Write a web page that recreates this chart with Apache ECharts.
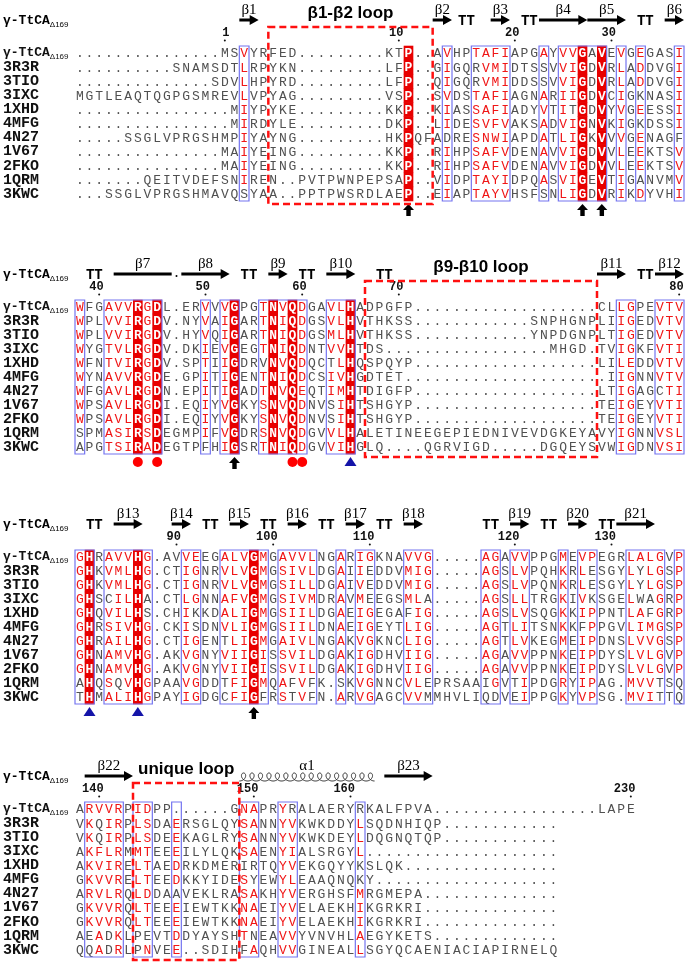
<!DOCTYPE html>
<html>
<head>
<meta charset="utf-8">
<title>alignment</title>
<script src="https://cdn.jsdelivr.net/npm/echarts@6.0.0/dist/echarts.min.js"></script>
<style>
  html, body { margin: 0; padding: 0; background: #fff; }
  #main { width: 685px; height: 965px; }
</style>
</head>
<body>
<div id="main"></div>
<script>
// sequence names, top to bottom
const names = ['γ-TtCAΔ169', '3R3R', '3TIO', '3IXC', '1XHD', '4MFG', '4N27', '1V67', '2FKO', '1QRM', '3KWC']

// ---- block 1 (residues 1-37)
const seq1 = [
  '...............MSVYRFED.........KTP..AVHPTAFIAPGAYVVGAVEVGEGASI',
  '..........SNAMSDTLRPYKN.........LFP..GIGQRVMIDTSSVVIGDVRLADDVGI',
  '..............SDVLHPYRD.........LFP..QIGQRVMIDDSSVVIGDVRLADDVGI',
  'MGTLEAQTQGPGSMREVLVPYAG.........VSP..SVDSTAFIAGNARIIGDVCIGKNASI',
  '................MIYPYKE.........KKP..KIASSAFIADYVTITGDVYVGEESSI',
  '................MIRDYLE.........DKP..LIDESVFVAKSADVIGNVKIGKDSSI',
  '.....SSGLVPRGSHMPIYAYNG.........HKPQFADRESNWIAPDATLIGKVVVGENAGF',
  '...............MAIYEING.........KKP..RIHPSAFVDENAVVIGDVVLEEKTSV',
  '...............MAIYEING.........KKP..RIHPSAFVDENAVVIGDVVLEEKTSV',
  '.......QEITVDEFSNIREN..PVTPWNPEPSAP..VIDPTAYIDPQASVIGEVTIGANVMV',
  '...SSGLVPRGSHMAVQSYAA..PPTPWSRDLAEP..EIAPTAYVHSFSNLIGDVRIKDYVHI'
]
const ident1 = [34, 52, 54]
const boxes1 = [[17, 17], [38, 38], [41, 44], [48, 48], [50, 54], [56, 56], [58, 58], [62, 62]]
const sim1 = { 17: 'VLI', 38: 'VI', 41: 'TS', 42: 'AVN', 43: 'FMWY', 44: 'IV', 48: 'AV', 50: 'VIL', 51: 'VI', 56: 'VLI', 58: 'ED', 62: 'IV' }
const nums1 = [[15, '1'], [33, '10'], [45, '20'], [55, '30']]
const ss1 = [['arrow', 17, 18, 'β1'], ['arrow', 37, 38, 'β2'], ['tt', 40], ['arrow', 43, 44, 'β3'], ['tt', 46.5],
  ['arrow', 48, 52, 'β4'], ['arrow', 53, 56, 'β5'], ['tt', 58.5], ['arrow', 61, 62, 'β6']]
const marks1 = [[34, 'arrow'], [52, 'arrow'], [54, 'arrow']]
const loop1 = [[19.5, 36.5, 'β1-β2 loop']]

// ---- block 2 (residues 38-80)
const seq2 = [
  'WFGAVVRGDL.ERVVVGPGTNVQDGAVLHADPGFP...................CLLGPEVTV',
  'WPLVVIRGDV.NYVAIGARTNIQDGSVLHVTHKSS............SNPHGNPLIIGEDVTV',
  'WPLVVIRGDV.HYVQIGARTNIQDGSMLHVTHKSS............YNPDGNPLTIGEDVTV',
  'WYGTVLRGDV.DKIEVGEGTNIQDNTVVHTDS.................MHGD.TVIGKFVTI',
  'WFNTVIRGDV.SPTIIGDRVNVQDQCTLHQSPQYP...................LILEDDVTV',
  'WYNAVVRGDE.GPITIGENTNIQDCSIVHGDTET.....................IIGNNVTV',
  'WFGAVLRGDN.EPITIGADTNVQEQTIMHTDIGFP...................LTIGAGCTI',
  'WPSAVLRGDI.EQIYVGKYSNVQDNVSIHTSHGYP...................TEIGEYVTI',
  'WPSAVLRGDI.EQIYVGKYSNVQDNVSIHTSHGYP...................TEIGEYVTI',
  'SPMASIRSDEGMPIFVGDRSNVQDGVVLHALETINEEGEPIEDNIVEVDGKEYAVYIGNNVSL',
  'APGTSIRADEGTPFHIGSRTNIQDGVVIHGLQ....QGRVIGD.....DGQEYSVWIGDNVSI'
]
const ident2 = [6, 8, 16, 20, 22, 28]
const boxes2 = [[0, 0], [3, 8], [13, 13], [15, 16], [19, 23], [26, 28], [56, 57], [60, 62]]
const sim2 = { 0: 'W', 3: 'AVT', 4: 'VS', 5: 'VIL', 7: 'GSA', 13: 'VIT', 15: 'VI', 19: 'TS', 21: 'VI', 23: 'DE',
  26: 'VMLI', 27: 'LVMI', 56: 'LI', 57: 'GE', 60: 'V', 61: 'TS', 62: 'VIL' }
const nums2 = [[2, '40'], [13, '50'], [23, '60'], [33, '70'], [62, '80']]
const ss2 = [['tt', 1.5], ['line', 4, 9, 'β7'], ['gap', 10], ['arrow', 11, 15, 'β8'], ['tt', 17.5], ['arrow', 20, 21, 'β9'],
  ['tt', 23.5], ['arrow', 26, 28, 'β10'], ['tt', 31.5], ['arrow', 54, 56, 'β11'], ['tt', 58.5], ['arrow', 60, 62, 'β12']]
const marks2 = [[6, 'dot'], [8, 'dot'], [16, 'arrow'], [22, 'dot'], [23, 'dot'], [28, 'tri']]
const loop2 = [[29.5, 53.5, 'β9-β10 loop']]

// ---- block 3 (residues 81-137)
const seq3 = [
  'GHRAVVHG.AVVEEGALVGMGAVVLNGARIGKNAVVG.....AGAVVPPGMEVPEGRLALGVP',
  'GHKVMLHG.CTIGNRVLVGMGSIVLDGAIIEDDVMIG.....AGSLVPQHKRLESGYLYLGSP',
  'GHKVMLHG.CTIGNRVLVGMGSILLDGAIVEDDVMIG.....AGSLVPQNKRLESGYLYLGSP',
  'GHSCILHA.CTLGNNAFVGMGSIVMDRAVMEEGSMLA.....AGSLLTRGKIVKSGELWAGRP',
  'GHQVILHS.CHIKKDALIGMGSIILDGAEIGEGAFIG.....AGSLVSQGKKIPPNTLAFGRP',
  'GHRSIVHG.CKISDNVLIGMGSIILDNAEIGEYTLIG.....AGTLITSNKKFPPGVLIMGSP',
  'GHRAILHG.CTIGENTLIGMGAIVLNGAKVGKNCLIG.....AGTLVKEGMEIPDNSLVVGSP',
  'GHNAMVHG.AKVGNYVIIGISSVILDGAKIGDHVIIG.....AGAVVPPNKEIPDYSLVLGVP',
  'GHNAMVHG.AKVGNYVIIGISSVILDGAKIGDHVIIG.....AGAVVPPNKEIPDYSLVLGVP',
  'AHQSQVHGPAAVGDDTFIGMQAFVFK.SKVGNNCVLEPRSAAIGVTIPDGRYIPAG.MVVTSQ',
  'THMALIHGPAYIGDGCFIGFRSTVFN.ARVGAGCVVMMHVLIQDVEIPPGKYVPSG.MVITTQ'
]
const ident3 = [1, 6, 18]
const boxes3 = [[0, 1], [3, 7], [11, 12], [15, 19], [21, 24], [27, 27], [29, 30], [34, 36], [42, 43], [45, 46],
  [50, 50], [52, 53], [57, 60], [62, 62]]
const sim3 = { 0: 'G', 3: 'AVS', 4: 'VMIL', 5: 'VLI', 7: 'G', 11: 'VIL', 12: 'GE', 15: 'AV', 16: 'LFI', 17: 'VI',
  19: 'MI', 21: 'AS', 22: 'VI', 23: 'VLI', 24: 'LM', 27: 'A', 29: 'IVM', 30: 'G', 34: 'VMLI', 35: 'VIL', 36: 'G',
  42: 'A', 43: 'G', 45: 'VLI', 46: 'VLI', 50: 'MKR', 52: 'VLI', 53: 'P', 57: 'LM', 58: 'AVI', 59: 'LMVI', 60: 'G', 62: 'P' }
const nums3 = [[10, '90'], [20, '100'], [30, '110'], [45, '120'], [55, '130']]
const ss3 = [['tt', 1.5], ['arrow', 4, 6, 'β13'], ['arrow', 10, 11, 'β14'], ['tt', 13.5], ['arrow', 16, 17, 'β15'],
  ['tt', 19.5], ['arrow', 22, 23, 'β16'], ['tt', 25.5], ['arrow', 28, 29, 'β17'], ['tt', 31.5], ['arrow', 34, 35, 'β18'],
  ['tt', 42.5], ['arrow', 45, 46, 'β19'], ['tt', 48.5], ['arrow', 51, 52, 'β20'], ['tt', 54.5], ['arrow', 56, 59, 'β21']]
const marks3 = [[1, 'tri'], [6, 'tri'], [18, 'arrow']]
const loop3 = []

// ---- block 4 (residues 138-230)
const seq4 = [
  'ARVVRPIDPP......GNAPRYRALAERYRKALFPVA.................LAPE',
  'VKQIRPLSDAERSGLQYSANNYVKWKDDYLSQDNHIQP............',
  'VKQIRPLSDEEKAGLRYSANNYVKWKDEYLDQGNQTQP............',
  'AKFLRMMTEEEILYLQKSAENYIALSRGYL....................',
  'AKVIRELTAEDRKDMERIRTQYVEKGQYYKSLQK................',
  'GKVVRELTEEDKKYIDESYEWYLEAAQNQKY...................',
  'ARVLRQLDDAAVEKLRASAKHYVERGHSFMRGMEPA..............',
  'GKVVRQLTEEEIEWTKKNAEIYVELAEKHIKGRKRI..............',
  'GKVVRQLTEEEIEWTKKNAEIYVELAEKHIKGRKRI..............',
  'AEADKLPEVTDDYAYSHTNEAVVYVNVHLAEGYKETS.............',
  'QQADRLPNVEE..SDIHFAQHVVGINEALLSGYQCAENIACIAPIRNELQ'
]
const ident4 = []
const boxes4 = [[1, 4], [6, 7], [10, 10], [17, 18], [21, 22], [29, 29]]
const sim4 = { 1: 'RK', 2: 'VFA', 3: 'VIL', 4: 'RK', 6: 'ILM', 7: 'STDN', 10: 'ED', 17: 'NST', 18: 'A', 21: 'YV', 22: 'VIL', 29: 'LMIA' }
const nums4 = [[2, '140'], [18, '150'], [28, '160'], [57, '230']]
const ss4 = [['arrow', 1, 5, 'β22'], ['helix', 17, 30, 'α1'], ['arrow', 32, 36, 'β23']]
const marks4 = []
const loop4 = [[5.5, 16.5, 'unique loop']]

const blocks = [
  { seqs: seq1, ident: ident1, boxes: boxes1, sim: sim1, nums: nums1, ss: ss1, marks: marks1, loop: loop1 },
  { seqs: seq2, ident: ident2, boxes: boxes2, sim: sim2, nums: nums2, ss: ss2, marks: marks2, loop: loop2 },
  { seqs: seq3, ident: ident3, boxes: boxes3, sim: sim3, nums: nums3, ss: ss3, marks: marks3, loop: loop3 },
  { seqs: seq4, ident: ident4, boxes: boxes4, sim: sim4, nums: nums4, ss: ss4, marks: marks4, loop: loop4 }
]

// layout
const tops = [46, 300, 550, 802]
const heights = [155, 154, 154, 155]
const MONO = '"Liberation Mono", "DejaVu Sans Mono", monospace'
const SERIF = '"Liberation Serif", "DejaVu Serif", serif'
const SANS = '"Liberation Sans", Arial, sans-serif'
const RED = '#f01616'
const BOX = '#7474f0'

const nameRich = {
  n: { fontFamily: MONO, fontWeight: 'bold', fontSize: 15, color: '#111' },
  g: { fontFamily: MONO, fontWeight: 'bold', fontSize: 13, color: '#111' },
  s: { fontFamily: SANS, fontSize: 8, color: '#111', padding: [7, 0, 0, 0] }
}
const nameFmt = v => v.startsWith('γ') ? '{g|γ-TtCA}{s|Δ169}' : '{n|' + v + '}'

function buildCells(b) {
  const cells = []
  const boxed = new Set()
  b.boxes.forEach(([s, e]) => { for (let c = s; c <= e; c++) boxed.add(c) })
  b.seqs.forEach((str, r) => {
    for (let c = 0; c < str.length; c++) {
      const ch = str[c]
      let kind = 0
      if (b.ident.includes(c)) kind = 2
      else if (boxed.has(c) && (b.sim[c] || '').includes(ch)) kind = 1
      cells.push({ c, r, ch, kind })
    }
  })
  return cells
}

function helixPoints(x0, x1, yc) {
  const loops = Math.round((x1 - x0) / 8.5)
  const k = (x1 - x0) / (loops * 2 * Math.PI)
  const r = 4
  const pts = []
  for (let th = 0; th <= loops * 2 * Math.PI + 0.01; th += 0.1) {
    pts.push([x0 + k * th + r * Math.sin(th), yc + r * Math.cos(th)])
  }
  return pts
}

const chart = echarts.init(document.getElementById('main'))
const grid = [], xAxis = [], yAxis = [], series = []

blocks.forEach((b, i) => {
  grid.push({ left: 75, width: 609, top: tops[i], height: heights[i] })
  xAxis.push({ gridIndex: i, type: 'value', min: -0.5, max: 62.5, show: false })
  yAxis.push({
    gridIndex: i, type: 'category', data: names, inverse: true,
    axisLine: { show: false }, axisTick: { show: false }, splitLine: { show: false },
    axisLabel: { interval: 0, margin: 72, align: 'left', formatter: nameFmt, rich: nameRich }
  })
  const cells = buildCells(b)
  // residues
  series.push({
    type: 'custom', xAxisIndex: i, yAxisIndex: i, clip: false, silent: true, z: 2,
    data: cells.map(d => [d.c, d.r]),
    renderItem: (params, api) => {
      const d = cells[params.dataIndex]
      const p = api.coord([d.c, d.r])
      const s = api.size([1, 1])
      const children = []
      if (d.kind === 2) {
        children.push({ type: 'rect', shape: { x: p[0] - s[0] / 2, y: p[1] - s[1] / 2 - 0.3, width: s[0], height: s[1] + 0.6 },
          style: { fill: '#e80000' } })
      }
      children.push({ type: 'text', style: {
        text: d.ch, x: p[0], y: p[1] + 1, align: 'center', verticalAlign: 'middle',
        fontFamily: MONO, fontSize: 13, fontWeight: d.kind === 2 ? 'bold' : 'normal',
        fill: d.kind === 2 ? '#fff' : d.kind === 1 ? RED : '#505050'
      } })
      return { type: 'group', children }
    }
  })
  // similarity boxes
  series.push({
    type: 'custom', xAxisIndex: i, yAxisIndex: i, clip: false, silent: true, z: 3,
    data: b.boxes,
    renderItem: (params, api) => {
      const cs = params.coordSys
      const x0 = api.coord([api.value(0) - 0.5, 0])[0]
      const x1 = api.coord([api.value(1) + 0.5, 0])[0]
      return { type: 'rect', shape: { x: x0, y: cs.y, width: x1 - x0, height: cs.height },
        style: { fill: 'none', stroke: BOX, lineWidth: 1.2 } }
    }
  })
  // secondary structure
  series.push({
    type: 'custom', xAxisIndex: i, yAxisIndex: i, clip: false, silent: true, z: 4,
    data: b.ss.map(s => [s[1], 0]),
    renderItem: (params, api) => {
      const s = b.ss[params.dataIndex]
      const cs = params.coordSys
      const yA = cs.y - 26, yL = cs.y - 38
      const X = c => api.coord([c, 0])[0]
      const children = []
      if (s[0] === 'tt') {
        children.push({ type: 'text', style: { text: 'TT', x: X(s[1]), y: yA + 1, align: 'center', verticalAlign: 'middle',
          fontFamily: MONO, fontWeight: 'bold', fontSize: 14, fill: '#000' } })
      } else if (s[0] === 'gap') {
        children.push({ type: 'circle', shape: { cx: X(s[1]), cy: yA + 2, r: 1 }, style: { fill: '#000' } })
      } else {
        const x0 = X(s[1] - 0.5), x1 = X(s[2] + 0.5)
        if (s[0] === 'arrow') {
          const hl = 9
          children.push({ type: 'polygon', shape: { points: [[x0, yA - 1.6], [x1 - hl, yA - 1.6], [x1 - hl, yA - 5], [x1, yA],
            [x1 - hl, yA + 5], [x1 - hl, yA + 1.6], [x0, yA + 1.6]] }, style: { fill: '#000' } })
        } else if (s[0] === 'line') {
          children.push({ type: 'rect', shape: { x: x0, y: yA - 1.6, width: x1 - x0, height: 3.2 }, style: { fill: '#000' } })
        } else if (s[0] === 'helix') {
          children.push({ type: 'polyline', shape: { points: helixPoints(x0, x1, yA + 1) },
            style: { fill: 'none', stroke: '#222', lineWidth: 1 } })
        }
        children.push({ type: 'text', style: { text: s[3], x: (x0 + x1) / 2, y: yL + 2, align: 'center', verticalAlign: 'middle',
          fontFamily: SERIF, fontSize: 15, fill: '#000' } })
      }
      if (params.dataIndex === 0) {
        children.push({ type: 'text', style: { text: '{g|γ-TtCA}{s|Δ169}', rich: nameRich, x: 3, y: cs.y - 25,
          verticalAlign: 'middle' } })
      }
      return { type: 'group', children }
    }
  })
  // residue numbers
  series.push({
    type: 'custom', xAxisIndex: i, yAxisIndex: i, clip: false, silent: true, z: 4,
    data: b.nums.map(n => [n[0], 0]),
    renderItem: (params, api) => {
      const cs = params.coordSys
      const x = api.coord([api.value(0), 0])[0]
      const label = b.nums[params.dataIndex][1]
      return { type: 'group', children: [
        { type: 'text', style: { text: label, x: x + 4.5, y: cs.y - 13, align: 'right', verticalAlign: 'middle',
          fontFamily: MONO, fontWeight: 'bold', fontSize: 12, fill: '#111' } },
        { type: 'circle', shape: { cx: x, cy: cs.y - 5.5, r: 1 }, style: { fill: '#111' } }
      ] }
    }
  })
  // site markers below the block
  series.push({
    type: 'custom', xAxisIndex: i, yAxisIndex: i, clip: false, silent: true, z: 4,
    data: b.marks.map(m => [m[0], 0]),
    renderItem: (params, api) => {
      const cs = params.coordSys
      const x = api.coord([api.value(0), 0])[0]
      const kind = b.marks[params.dataIndex][1]
      const y0 = cs.y + cs.height + 3
      if (kind === 'dot') return { type: 'circle', shape: { cx: x, cy: y0 + 5, r: 5 }, style: { fill: '#f00' } }
      if (kind === 'tri') return { type: 'polygon', shape: { points: [[x, y0], [x + 6, y0 + 9], [x - 6, y0 + 9]] }, style: { fill: '#1414a8' } }
      return { type: 'polygon', shape: { points: [[x, y0], [x + 5.5, y0 + 6], [x + 2.2, y0 + 6], [x + 2.2, y0 + 12],
        [x - 2.2, y0 + 12], [x - 2.2, y0 + 6], [x - 5.5, y0 + 6]] }, style: { fill: '#000' } }
    }
  })
  // dashed loop frames
  series.push({
    type: 'custom', xAxisIndex: i, yAxisIndex: i, clip: false, silent: true, z: 5,
    data: b.loop.map(l => [l[0], l[1]]),
    renderItem: (params, api) => {
      const cs = params.coordSys
      const x0 = api.coord([api.value(0), 0])[0]
      const x1 = api.coord([api.value(1), 0])[0]
      const y0 = cs.y - 19, y1 = cs.y + cs.height + 3
      return { type: 'group', children: [
        { type: 'rect', shape: { x: x0, y: y0, width: x1 - x0, height: y1 - y0 },
          style: { fill: 'none', stroke: '#ff1010', lineWidth: 2.5, lineDash: [7, 4] } },
        { type: 'text', style: { text: b.loop[params.dataIndex][2], x: (x0 + x1) / 2, y: cs.y - 33, align: 'center',
          verticalAlign: 'middle', fontFamily: SANS, fontWeight: 'bold', fontSize: 17, fill: '#000' } }
      ] }
    }
  })
})

chart.setOption({ animation: false, grid, xAxis, yAxis, series })
</script>
</body>
</html>
